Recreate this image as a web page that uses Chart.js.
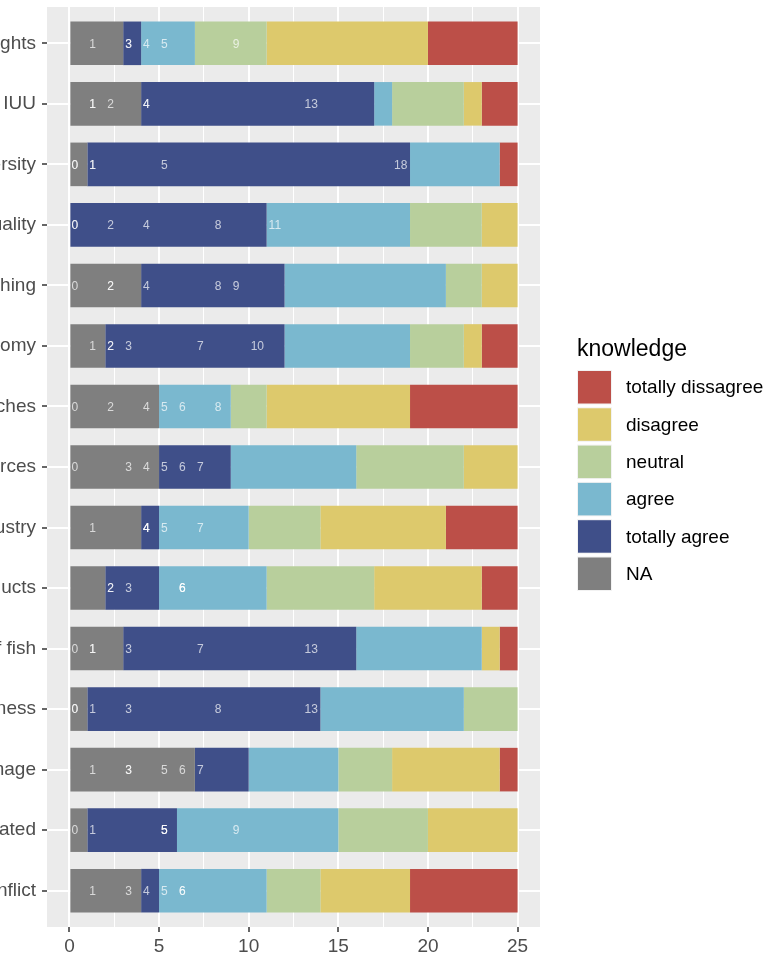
<!DOCTYPE html>
<html>
<head>
<meta charset="utf-8">
<script src="https://cdn.jsdelivr.net/npm/chart.js@4.4.0/dist/chart.umd.min.js"></script>
<style>
html,body{margin:0;padding:0;background:#ffffff;}
#wrap{width:768px;height:955px;position:relative;}
</style>
</head>
<body>
<div id="wrap"><canvas id="c"></canvas></div>
<script>
// ---- data (top row first) ----
const categories = ["ghts","IUU","ersity","uality","hing","omy","ches","rces","ustry","ucts","f fish","ness","mage","ated","nflict"];
const naValues        = [3, 4, 1, 0, 4, 2, 5, 5, 4, 2, 3, 1, 7, 1, 4];
const totallyAgree    = [1,13,18,11, 8,10, 0, 4, 1, 3,13,13, 3, 5, 1];
const agreeValues     = [3, 1, 5, 8, 9, 7, 4, 7, 5, 6, 7, 8, 5, 9, 6];
const neutralValues   = [4, 4, 0, 4, 2, 3, 2, 6, 4, 6, 0, 3, 3, 5, 3];
const disagreeValues  = [9, 1, 0, 2, 2, 1, 8, 3, 7, 6, 1, 0, 6, 5, 5];
const totallyDisagree = [5, 2, 1, 0, 0, 2, 6, 0, 4, 2, 1, 0, 1, 0, 6];
const seriesNames = ["NA","totally agree","agree","neutral","disagree","totally dissagree"];
const xTickValues = [0, 2.5, 5, 7.5, 10, 12.5, 15, 17.5, 20, 22.5, 25];
const legendTitle = "knowledge";

// ---- styles ----
const seriesColors = ["#7F7F7F","#3F4F89","#7AB8CF","#B8CF9C","#DDC96C","#BC4F48"];
const FONT = '"Liberation Sans", Arial, Helvetica, sans-serif';

const seriesValues = [naValues, totallyAgree, agreeValues, neutralValues, disagreeValues, totallyDisagree];
const datasets = seriesValues.map((vals, k) => ({
  label: seriesNames[k],
  data: vals.map((v, i) => ({x: v, y: i})),
  backgroundColor: seriesColors[k],
  borderWidth: 0,
  categoryPercentage: 1.0,
  barPercentage: 0.72
}));

const panelBg = {
  id: 'panelBg',
  beforeDraw(chart) {
    const {ctx, chartArea: a} = chart;
    ctx.save();
    ctx.fillStyle = '#EBEBEB';
    ctx.fillRect(a.left, a.top, a.right - a.left, a.bottom - a.top);
    ctx.restore();
  }
};

const countLabels = {
  id: 'countLabels',
  afterDatasetsDraw(chart) {
    const {ctx, scales: {x, y}} = chart;
    ctx.save();
    ctx.font = '12px ' + FONT;
    ctx.textAlign = 'left';
    ctx.textBaseline = 'middle';
    ctx.fillStyle = 'rgba(255,255,255,0.7)';
    chart.data.datasets.forEach(ds => {
      ds.data.forEach(p => {
        ctx.fillText(String(p.x), x.getPixelForValue(p.x) + 2, y.getPixelForValue(p.y) + 1);
      });
    });
    ctx.restore();
  }
};

const ggLegend = {
  id: 'ggLegend',
  afterDraw(chart) {
    const ctx = chart.ctx;
    const x0 = 577, top0 = 370, step = 37.3, kw = 35, kh = 34.5;
    ctx.save();
    ctx.fillStyle = '#000000';
    ctx.font = '23px ' + FONT;
    ctx.textAlign = 'left';
    ctx.textBaseline = 'alphabetic';
    ctx.fillText(legendTitle, x0, 356);
    ctx.font = '19px ' + FONT;
    ctx.textBaseline = 'middle';
    const n = chart.data.datasets.length;
    for (let j = 0; j < n; j++) {
      const ds = chart.data.datasets[n - 1 - j];
      const ty = top0 + j * step;
      ctx.fillStyle = '#F2F2F2';
      ctx.fillRect(x0, ty, kw, kh);
      ctx.fillStyle = ds.backgroundColor;
      ctx.fillRect(x0 + 1, ty + 1, kw - 2, kh - 2);
      ctx.fillStyle = '#000000';
      ctx.fillText(ds.label, 626, ty + kh / 2 + 1);
    }
    ctx.restore();
  }
};

new Chart(document.getElementById('c'), {
  type: 'bar',
  data: { datasets },
  options: {
    indexAxis: 'y',
    responsive: true,
    maintainAspectRatio: false,
    animation: false,
    devicePixelRatio: 1,
    layout: { padding: { left: 0, right: 228, top: 7, bottom: 0 } },
    plugins: { legend: { display: false }, tooltip: { enabled: false } },
    scales: {
      x: {
        type: 'linear',
        stacked: true,
        min: -1.25,
        max: 26.25,
        offset: false,
        afterBuildTicks: s => { s.ticks = xTickValues.map(v => ({value: v})); },
        afterFit: s => { s.height = 28; s.paddingLeft = 0; s.paddingRight = 0; },
        border: { display: false },
        grid: {
          offset: false,
          color: '#FFFFFF',
          lineWidth: c => (c.tick && c.tick.value % 5 === 0) ? 2 : 1,
          tickColor: c => (c.tick && c.tick.value % 5 === 0) ? '#333333' : 'rgba(0,0,0,0)',
          tickLength: 5,
          tickWidth: 1.5
        },
        ticks: {
          autoSkip: false,
          maxRotation: 0,
          padding: 3,
          color: '#4D4D4D',
          font: { family: FONT, size: 19 },
          callback: v => (v % 5 === 0 ? String(v) : '')
        }
      },
      y: {
        type: 'linear',
        stacked: true,
        reverse: true,
        min: -0.6,
        max: 14.6,
        offset: false,
        afterBuildTicks: s => { s.ticks = categories.map((c, i) => ({value: i})); },
        afterFit: s => { s.width = 47; s.paddingTop = 0; s.paddingBottom = 0; },
        border: { display: false },
        grid: {
          offset: false,
          color: '#FFFFFF',
          lineWidth: 2,
          tickColor: '#333333',
          tickLength: 5,
          tickWidth: 1.5
        },
        ticks: {
          autoSkip: false,
          padding: 6,
          color: '#4D4D4D',
          font: { family: FONT, size: 19 },
          callback: v => categories[v]
        }
      }
    }
  },
  plugins: [panelBg, countLabels, ggLegend]
});
</script>
</body>
</html>
